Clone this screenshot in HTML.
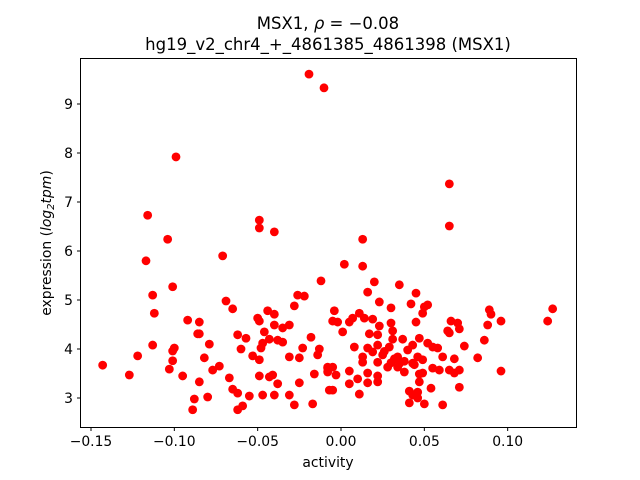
<!DOCTYPE html>
<html><head><meta charset="utf-8"><style>
body{margin:0;background:#fff}
svg{display:block;font-family:"DejaVu Sans","Liberation Sans",sans-serif}
</style></head><body>
<svg id="chart" width="640" height="480">
<rect width="640" height="480" fill="#fff"/>
<text x="328" y="29" text-anchor="middle" font-size="16.5">MSX1, <tspan font-style="italic">ρ</tspan> = −0.08</text>
<text x="328" y="50" text-anchor="middle" font-size="16.5">hg19_v2_chr4_+_4861385_4861398 (MSX1)</text>
<g id="points"></g>
<rect x="80.5" y="58.5" width="496" height="369" fill="none" stroke="#000" stroke-width="1"/>
<g id="xticks"></g>
<g id="yticks"></g>
<text x="328" y="467" text-anchor="middle" font-size="13.9">activity</text>
<text transform="translate(51,243) rotate(-90)" text-anchor="middle" font-size="13.9">expression (<tspan font-style="italic">log</tspan><tspan font-size="10" dy="3" font-style="italic">2</tspan><tspan dy="-3" font-style="italic">tpm</tspan>)</text>
</svg>
<script>
const xTicks=[-0.15,-0.10,-0.05,0.00,0.05,0.10];
const xTickLabels=["−0.15","−0.10","−0.05","0.00","0.05","0.10"];
const yTicks=[3,4,5,6,7,8,9];
const yTickLabels=["3","4","5","6","7","8","9"];
const activity=[-0.0192,-0.0102,-0.117,-0.099,-0.116,-0.104,-0.071,-0.049,-0.049,-0.040,0.065,0.065,0.013,-0.012,-0.101,-0.113,-0.112,-0.069,-0.065,-0.026,-0.022,-0.028,-0.044,-0.040,-0.050,-0.049,-0.092,-0.085,-0.040,-0.035,-0.031,-0.046,-0.086,-0.085,-0.062,-0.057,-0.043,-0.038,-0.035,-0.018,-0.047,-0.048,-0.113,-0.079,-0.060,-0.023,-0.013,-0.014,-0.100,-0.101,-0.122,-0.082,-0.053,-0.049,-0.031,-0.025,-0.008,-0.143,-0.101,-0.103,-0.073,-0.077,-0.127,-0.095,-0.067,-0.049,-0.043,-0.041,-0.016,-0.038,-0.085,-0.025,-0.065,-0.062,-0.055,-0.047,-0.040,-0.031,-0.007,-0.088,-0.080,-0.028,-0.017,-0.059,-0.062,-0.089,
0.002,0.013,0.020,0.035,0.016,0.045,0.023,0.042,0.030,0.052,0.050,0.049,-0.004,0.011,0.007,0.014,0.019,0.005,-0.005,-0.002,0.089,0.090,0.127,0.124,0.096,0.066,0.070,0.071,0.064,0.065,0.088,0.045,0.030,0.023,0.031,0.001,0.017,0.022,0.086,0.074,0.047,0.037,0.031,0.043,0.052,0.055,0.058,0.008,0.016,0.022,0.029,0.040,0.061,0.068,0.082,0.013,0.019,0.025,0.034,0.046,0.049,0.013,0.022,0.028,0.034,0.038,0.043,0.055,0.059,0.065,0.071,0.068,0.096,-0.008,-0.005,-0.008,-0.003,0.005,0.016,0.022,0.010,0.005,0.016,0.022,0.047,0.049,0.047,0.054,0.071,-0.005,0.011,0.041,0.046,0.043,0.046,0.041,0.050,0.061,0.035,0.032,0.026,0.038,0.044,0.030];
const expression=[9.61,9.33,5.80,7.92,6.73,6.24,5.90,6.63,6.47,6.39,7.37,6.51,6.24,5.39,5.27,5.10,4.73,4.98,4.82,5.10,5.08,4.88,4.78,4.71,4.63,4.57,4.59,4.55,4.49,4.43,4.49,4.35,4.31,4.31,4.29,4.22,4.20,4.18,4.14,4.24,4.12,4.02,4.08,4.10,4.00,4.02,4.00,3.88,4.02,3.96,3.86,3.82,3.86,3.78,3.84,3.82,3.61,3.67,3.76,3.59,3.65,3.57,3.47,3.45,3.41,3.45,3.43,3.47,3.49,3.29,3.33,3.31,3.18,3.10,3.04,3.06,3.06,3.06,3.16,2.98,3.02,2.86,2.88,2.84,2.76,2.76,
5.73,5.69,5.37,5.31,5.16,5.14,4.96,4.92,4.84,4.90,4.86,4.73,4.78,4.73,4.63,4.63,4.61,4.55,4.57,4.55,4.80,4.71,4.82,4.57,4.57,4.57,4.53,4.41,4.37,4.33,4.49,4.55,4.53,4.47,4.37,4.35,4.31,4.29,4.18,4.06,4.22,4.20,4.20,4.08,4.12,4.04,4.02,4.04,4.02,4.08,4.04,3.98,3.84,3.80,3.82,3.84,3.94,3.88,3.84,3.84,3.78,3.73,3.73,3.63,3.63,3.53,3.71,3.61,3.57,3.57,3.57,3.51,3.55,3.63,3.63,3.53,3.47,3.55,3.51,3.45,3.39,3.29,3.31,3.33,3.49,3.51,3.33,3.20,3.22,3.16,3.08,3.14,3.12,3.06,3.00,2.90,2.88,2.86,3.70,3.80,3.95,3.75,3.68,3.72];
const NS='http://www.w3.org/2000/svg';
function sx(v){return 341+v*1666.7;}
function sy(v){return 349-(v-4)*49;}
const pg=document.getElementById('points');
for(let i=0;i<activity.length;i++){
  const c=document.createElementNS(NS,'circle');
  c.setAttribute('cx',sx(activity[i]));c.setAttribute('cy',sy(expression[i]));
  c.setAttribute('r',4.4);c.setAttribute('fill','#ff0000');
  
  
  pg.appendChild(c);
}
const xg=document.getElementById('xticks');
xTicks.forEach((t,i)=>{
  const x=sx(t);
  const l=document.createElementNS(NS,'line');
  l.setAttribute('x1',x);l.setAttribute('x2',x);l.setAttribute('y1',427.5);l.setAttribute('y2',431);l.setAttribute('stroke','#000');
  
  
  xg.appendChild(l);
  const tx=document.createElementNS(NS,'text');
  tx.setAttribute('x',x);tx.setAttribute('y',446);tx.setAttribute('text-anchor','middle');tx.setAttribute('font-size','13.9');
  tx.textContent=xTickLabels[i];
  
  
  xg.appendChild(tx);
});
const yg=document.getElementById('yticks');
yTicks.forEach((t,i)=>{
  const y=sy(t);
  const l=document.createElementNS(NS,'line');
  l.setAttribute('x1',77);l.setAttribute('x2',80.5);l.setAttribute('y1',y);l.setAttribute('y2',y);l.setAttribute('stroke','#000');
  
  
  yg.appendChild(l);
  const tx=document.createElementNS(NS,'text');
  tx.setAttribute('x',73);tx.setAttribute('y',y+5);tx.setAttribute('text-anchor','end');tx.setAttribute('font-size','13.9');
  tx.textContent=yTickLabels[i];
  
  
  yg.appendChild(tx);
});
</script>
</body></html>
